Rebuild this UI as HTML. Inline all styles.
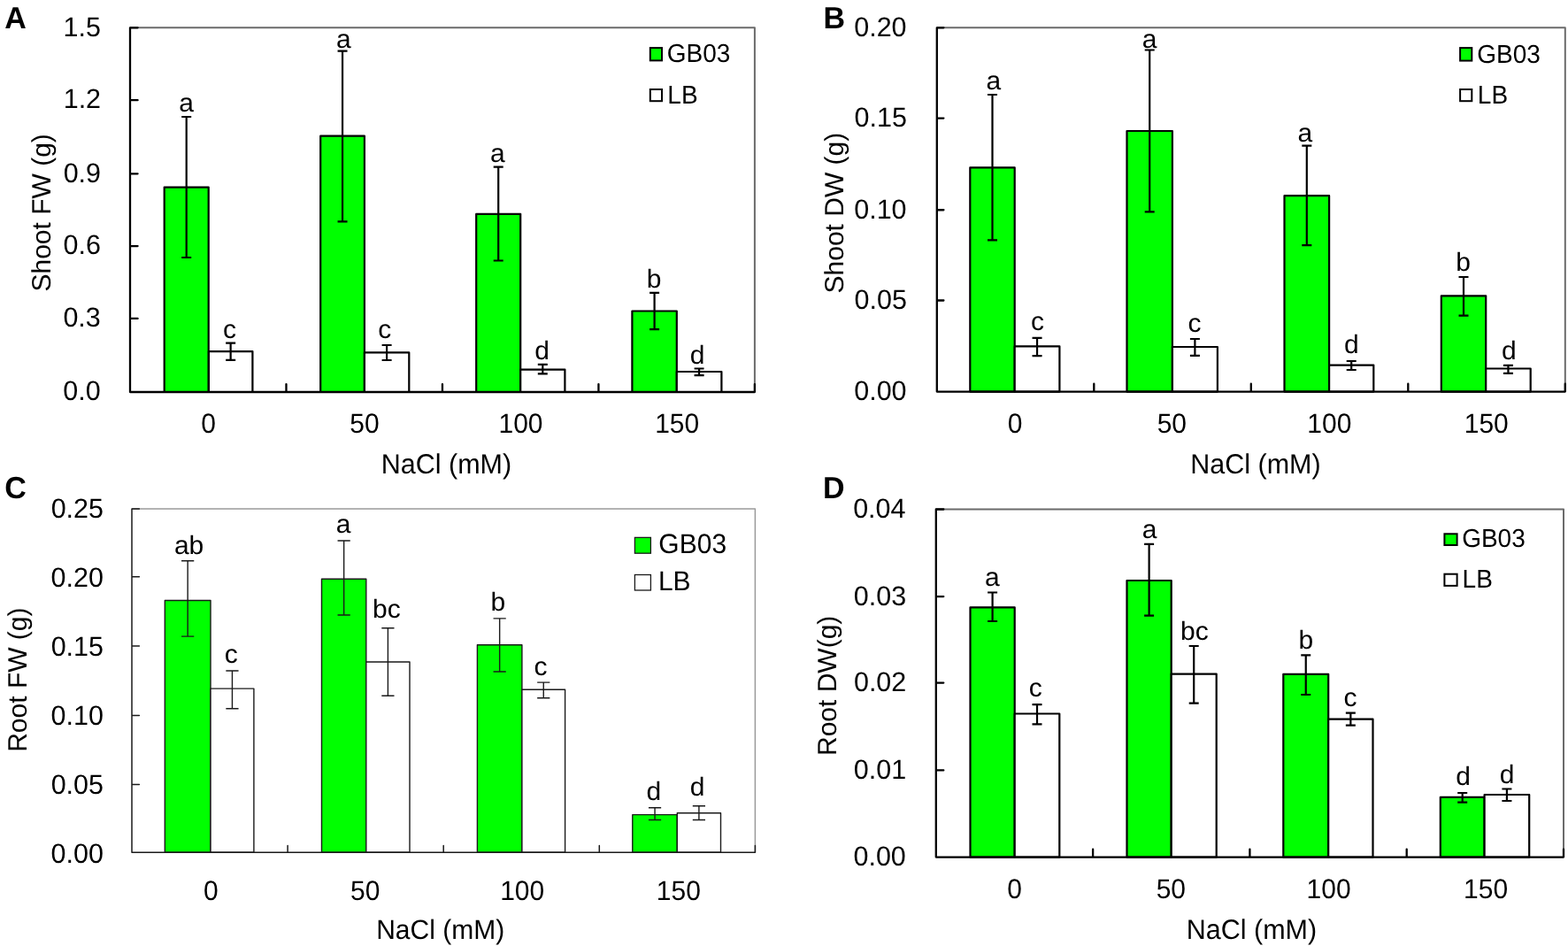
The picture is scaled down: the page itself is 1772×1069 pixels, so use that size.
<!DOCTYPE html>
<html><head><meta charset="utf-8"><title>Figure</title>
<style>html,body{margin:0;padding:0;background:#fff;overflow:hidden;}svg{display:block;}text{font-family:'Liberation Sans', Arial, Helvetica, sans-serif;fill:#000;text-rendering:geometricPrecision;}</style></head><body>
<svg width="1772" height="1069" viewBox="0 0 1772 1069">
<rect width="1772" height="1069" fill="#fff"/>
<path d="M147 31.3H852.9V443" fill="none" stroke="#6b6b6b" stroke-width="2.0" stroke-linejoin="round"/>
<rect x="185.7" y="211.6" width="50" height="231.4" fill="#00ff00" stroke="#000" stroke-width="2.2" stroke-linejoin="round"/>
<rect x="235.9" y="397.1" width="49.5" height="45.9" fill="#fff" stroke="#000" stroke-width="2.2" stroke-linejoin="round"/>
<rect x="362.2" y="153.7" width="49.7" height="289.3" fill="#00ff00" stroke="#000" stroke-width="2.2" stroke-linejoin="round"/>
<rect x="411.9" y="398.4" width="50.4" height="44.6" fill="#fff" stroke="#000" stroke-width="2.2" stroke-linejoin="round"/>
<rect x="538.2" y="241.8" width="50" height="201.2" fill="#00ff00" stroke="#000" stroke-width="2.2" stroke-linejoin="round"/>
<rect x="588.2" y="417.6" width="50.2" height="25.4" fill="#fff" stroke="#000" stroke-width="2.2" stroke-linejoin="round"/>
<rect x="714.4" y="351.5" width="50.4" height="91.5" fill="#00ff00" stroke="#000" stroke-width="2.2" stroke-linejoin="round"/>
<rect x="764.8" y="420" width="50.6" height="23" fill="#fff" stroke="#000" stroke-width="2.2" stroke-linejoin="round"/>
<path d="M210.7 132V291M205.2 132H216.2M205.2 291H216.2" fill="none" stroke="#000" stroke-width="2.2"/>
<path d="M260.65 387.6V406.9M255.15 387.6H266.15M255.15 406.9H266.15" fill="none" stroke="#000" stroke-width="2.2"/>
<path d="M387.05 57.7V250.4M381.55 57.7H392.55M381.55 250.4H392.55" fill="none" stroke="#000" stroke-width="2.2"/>
<path d="M437.1 390V407M431.6 390H442.6M431.6 407H442.6" fill="none" stroke="#000" stroke-width="2.2"/>
<path d="M563.2 188.7V294.5M557.7 188.7H568.7M557.7 294.5H568.7" fill="none" stroke="#000" stroke-width="2.2"/>
<path d="M613.3 411.8V422.4M607.8 411.8H618.8M607.8 422.4H618.8" fill="none" stroke="#000" stroke-width="2.2"/>
<path d="M739.6 330.8V372.1M734.1 330.8H745.1M734.1 372.1H745.1" fill="none" stroke="#000" stroke-width="2.2"/>
<path d="M790.1 416.5V424.1M784.6 416.5H795.6M784.6 424.1H795.6" fill="none" stroke="#000" stroke-width="2.2"/>
<path d="M147 31.3V443H852.9M147 443H155.6M147 359.9H155.6M147 278.1H155.6M147 196.3H155.6M147 113.2H155.6M147 31.3H155.6M323.48 443V434.1M499.95 443V434.1M676.42 443V434.1M852.9 443V434.1" fill="none" stroke="#000" stroke-width="2.3" stroke-linejoin="round" stroke-linecap="round"/>
<rect x="734.8" y="54.1" width="13.2" height="14.3" fill="#00ff00" stroke="#000" stroke-width="2.0"/>
<rect x="734.8" y="101" width="13.2" height="13.2" fill="#fff" stroke="#000" stroke-width="2.0"/>
<path d="M1058.8 31.3H1768.8V442.6" fill="none" stroke="#6b6b6b" stroke-width="2.0" stroke-linejoin="round"/>
<rect x="1096.3" y="189.3" width="50.4" height="253.3" fill="#00ff00" stroke="#000" stroke-width="2.2" stroke-linejoin="round"/>
<rect x="1146.7" y="391.3" width="50.7" height="51.3" fill="#fff" stroke="#000" stroke-width="2.2" stroke-linejoin="round"/>
<rect x="1273.5" y="148" width="51.4" height="294.6" fill="#00ff00" stroke="#000" stroke-width="2.2" stroke-linejoin="round"/>
<rect x="1324.9" y="392" width="51" height="50.6" fill="#fff" stroke="#000" stroke-width="2.2" stroke-linejoin="round"/>
<rect x="1451.5" y="221.2" width="50.6" height="221.4" fill="#00ff00" stroke="#000" stroke-width="2.2" stroke-linejoin="round"/>
<rect x="1502.1" y="412.6" width="50.2" height="30" fill="#fff" stroke="#000" stroke-width="2.2" stroke-linejoin="round"/>
<rect x="1628.8" y="334.3" width="50.4" height="108.3" fill="#00ff00" stroke="#000" stroke-width="2.2" stroke-linejoin="round"/>
<rect x="1679.2" y="416.5" width="50.5" height="26.1" fill="#fff" stroke="#000" stroke-width="2.2" stroke-linejoin="round"/>
<path d="M1121.5 107V271.4M1116 107H1127M1116 271.4H1127" fill="none" stroke="#000" stroke-width="2.2"/>
<path d="M1172.05 381.8V402.1M1166.55 381.8H1177.55M1166.55 402.1H1177.55" fill="none" stroke="#000" stroke-width="2.2"/>
<path d="M1299.2 56.5V239.3M1293.7 56.5H1304.7M1293.7 239.3H1304.7" fill="none" stroke="#000" stroke-width="2.2"/>
<path d="M1350.4 383V401.9M1344.9 383H1355.9M1344.9 401.9H1355.9" fill="none" stroke="#000" stroke-width="2.2"/>
<path d="M1476.8 164.7V277.2M1471.3 164.7H1482.3M1471.3 277.2H1482.3" fill="none" stroke="#000" stroke-width="2.2"/>
<path d="M1527.2 408V418M1521.7 408H1532.7M1521.7 418H1532.7" fill="none" stroke="#000" stroke-width="2.2"/>
<path d="M1654 313V356.6M1648.5 313H1659.5M1648.5 356.6H1659.5" fill="none" stroke="#000" stroke-width="2.2"/>
<path d="M1704.45 412.8V421.8M1698.95 412.8H1709.95M1698.95 421.8H1709.95" fill="none" stroke="#000" stroke-width="2.2"/>
<path d="M1058.8 31.3V442.6H1768.8M1058.8 442.6H1066.4M1058.8 339.5H1066.4M1058.8 237.25H1066.4M1058.8 133.6H1066.4M1058.8 31.3H1066.4M1236.3 442.6V433.7M1413.8 442.6V433.7M1591.3 442.6V433.7M1768.8 442.6V433.7" fill="none" stroke="#000" stroke-width="2.3" stroke-linejoin="round" stroke-linecap="round"/>
<rect x="1650.1" y="54.1" width="13.2" height="14.5" fill="#00ff00" stroke="#000" stroke-width="2.0"/>
<rect x="1650.1" y="101" width="13.2" height="13.2" fill="#fff" stroke="#000" stroke-width="2.0"/>
<path d="M149 574.9H853.4V963.3" fill="none" stroke="#9a9a9a" stroke-width="1.5" stroke-linejoin="round"/>
<rect x="186.3" y="678.5" width="51.7" height="284.8" fill="#00ff00" stroke="#1a1a1a" stroke-width="1.4" stroke-linejoin="round"/>
<rect x="238" y="778.1" width="48.9" height="185.2" fill="#fff" stroke="#1a1a1a" stroke-width="1.4" stroke-linejoin="round"/>
<rect x="363.5" y="654.2" width="50.3" height="309.1" fill="#00ff00" stroke="#1a1a1a" stroke-width="1.4" stroke-linejoin="round"/>
<rect x="413.8" y="748" width="49.2" height="215.3" fill="#fff" stroke="#1a1a1a" stroke-width="1.4" stroke-linejoin="round"/>
<rect x="539.4" y="728.7" width="50.5" height="234.6" fill="#00ff00" stroke="#1a1a1a" stroke-width="1.4" stroke-linejoin="round"/>
<rect x="589.9" y="779.3" width="48.7" height="184" fill="#fff" stroke="#1a1a1a" stroke-width="1.4" stroke-linejoin="round"/>
<rect x="714.8" y="920.6" width="50.5" height="42.7" fill="#00ff00" stroke="#1a1a1a" stroke-width="1.4" stroke-linejoin="round"/>
<rect x="765.3" y="918.8" width="49.2" height="44.5" fill="#fff" stroke="#1a1a1a" stroke-width="1.4" stroke-linejoin="round"/>
<path d="M212.15 633.8V719.1M205.05 633.8H219.25M205.05 719.1H219.25" fill="none" stroke="#1a1a1a" stroke-width="1.4"/>
<path d="M262.45 758V800.7M255.35 758H269.55M255.35 800.7H269.55" fill="none" stroke="#1a1a1a" stroke-width="1.4"/>
<path d="M388.65 611V695M381.55 611H395.75M381.55 695H395.75" fill="none" stroke="#1a1a1a" stroke-width="1.4"/>
<path d="M438.4 709.8V786.3M431.3 709.8H445.5M431.3 786.3H445.5" fill="none" stroke="#1a1a1a" stroke-width="1.4"/>
<path d="M564.65 698.9V759M557.55 698.9H571.75M557.55 759H571.75" fill="none" stroke="#1a1a1a" stroke-width="1.4"/>
<path d="M614.25 771.1V788.8M607.15 771.1H621.35M607.15 788.8H621.35" fill="none" stroke="#1a1a1a" stroke-width="1.4"/>
<path d="M740.05 912.8V926.5M732.95 912.8H747.15M732.95 926.5H747.15" fill="none" stroke="#1a1a1a" stroke-width="1.4"/>
<path d="M789.9 910.8V926.5M782.8 910.8H797M782.8 926.5H797" fill="none" stroke="#1a1a1a" stroke-width="1.4"/>
<path d="M149 574.9V963.3H853.4M149 963.3H157.4M149 886.6H157.4M149 808.4H157.4M149 730.1H157.4M149 651.8H157.4M149 574.9H157.4M325.1 963.3V955.6M501.2 963.3V955.6M677.3 963.3V955.6M853.4 963.3V955.6" fill="none" stroke="#1a1a1a" stroke-width="1.5" stroke-linejoin="round" stroke-linecap="round"/>
<rect x="717.4" y="607.4" width="18" height="17.8" fill="#00ff00" stroke="#1a1a1a" stroke-width="1.3"/>
<rect x="717.4" y="649.5" width="18" height="17.5" fill="#fff" stroke="#1a1a1a" stroke-width="1.3"/>
<path d="M1057.8 575.5H1767V968.6" fill="none" stroke="#6b6b6b" stroke-width="2.0" stroke-linejoin="round"/>
<rect x="1096.5" y="686.3" width="50.2" height="282.3" fill="#00ff00" stroke="#000" stroke-width="2.2" stroke-linejoin="round"/>
<rect x="1146.7" y="806.5" width="50.6" height="162.1" fill="#fff" stroke="#000" stroke-width="2.2" stroke-linejoin="round"/>
<rect x="1273.5" y="656" width="50.2" height="312.6" fill="#00ff00" stroke="#000" stroke-width="2.2" stroke-linejoin="round"/>
<rect x="1323.7" y="761.6" width="51" height="207" fill="#fff" stroke="#000" stroke-width="2.2" stroke-linejoin="round"/>
<rect x="1450.3" y="761.8" width="50.9" height="206.8" fill="#00ff00" stroke="#000" stroke-width="2.2" stroke-linejoin="round"/>
<rect x="1501.2" y="812.7" width="50.3" height="155.9" fill="#fff" stroke="#000" stroke-width="2.2" stroke-linejoin="round"/>
<rect x="1627.8" y="900.9" width="49.8" height="67.7" fill="#00ff00" stroke="#000" stroke-width="2.2" stroke-linejoin="round"/>
<rect x="1677.6" y="898" width="50.6" height="70.6" fill="#fff" stroke="#000" stroke-width="2.2" stroke-linejoin="round"/>
<path d="M1121.6 669.5V702M1116.1 669.5H1127.1M1116.1 702H1127.1" fill="none" stroke="#000" stroke-width="2.2"/>
<path d="M1172 796.2V818.4M1166.5 796.2H1177.5M1166.5 818.4H1177.5" fill="none" stroke="#000" stroke-width="2.2"/>
<path d="M1298.6 614.8V695.6M1293.1 614.8H1304.1M1293.1 695.6H1304.1" fill="none" stroke="#000" stroke-width="2.2"/>
<path d="M1349.2 730V794.6M1343.7 730H1354.7M1343.7 794.6H1354.7" fill="none" stroke="#000" stroke-width="2.2"/>
<path d="M1475.75 740.3V785M1470.25 740.3H1481.25M1470.25 785H1481.25" fill="none" stroke="#000" stroke-width="2.2"/>
<path d="M1526.35 805.6V819.6M1520.85 805.6H1531.85M1520.85 819.6H1531.85" fill="none" stroke="#000" stroke-width="2.2"/>
<path d="M1652.7 896V906.7M1647.2 896H1658.2M1647.2 906.7H1658.2" fill="none" stroke="#000" stroke-width="2.2"/>
<path d="M1702.9 891.5V905M1697.4 891.5H1708.4M1697.4 905H1708.4" fill="none" stroke="#000" stroke-width="2.2"/>
<path d="M1057.8 575.5V968.6H1767M1057.8 968.6H1066.3M1057.8 870.4H1066.3M1057.8 771.6H1066.3M1057.8 674.05H1066.3M1057.8 575.5H1066.3M1235.1 968.6V959.7M1412.4 968.6V959.7M1589.7 968.6V959.7M1767 968.6V959.7" fill="none" stroke="#000" stroke-width="2.3" stroke-linejoin="round" stroke-linecap="round"/>
<rect x="1632.4" y="603.3" width="14.2" height="12.7" fill="#00ff00" stroke="#000" stroke-width="2.0"/>
<rect x="1632.4" y="648.7" width="14.2" height="13.2" fill="#fff" stroke="#000" stroke-width="2.0"/>
<text transform="translate(113.6 452.2) scale(1 1.015)" font-size="30.5" text-anchor="end">0.0</text>
<text transform="translate(113.79 369.1) scale(1 1.015)" font-size="30.5" text-anchor="end">0.3</text>
<text transform="translate(113.91 287.3) scale(1 1.015)" font-size="30.5" text-anchor="end">0.6</text>
<text transform="translate(114.04 205.5) scale(1 1.015)" font-size="30.5" text-anchor="end">0.9</text>
<text transform="translate(114.08 122.4) scale(1 1.015)" font-size="30.5" text-anchor="end">1.2</text>
<text transform="translate(113.88 40.5) scale(1 1.015)" font-size="30.5" text-anchor="end">1.5</text>
<text transform="translate(235.64 488.5) scale(1 1.035)" font-size="30" text-anchor="middle">0</text>
<text transform="translate(412.01 488.5) scale(1 1.035)" font-size="30" text-anchor="middle">50</text>
<text transform="translate(588.53 488.5) scale(1 1.035)" font-size="30" text-anchor="middle">100</text>
<text transform="translate(765.2 488.5) scale(1 1.035)" font-size="30" text-anchor="middle">150</text>
<text transform="translate(504.41 534.6) scale(1 1.03)" font-size="30.5" text-anchor="middle">NaCl (mM)</text>
<text transform="translate(56.5 240.36) rotate(-90)" font-size="30" text-anchor="middle">Shoot FW (g)</text>
<text transform="translate(17.64 31.8) scale(1 1.02)" font-size="34" font-weight="bold" text-anchor="middle">A</text>
<text transform="translate(789.63 70.3) scale(1 1.035)" font-size="28" text-anchor="middle">GB03</text>
<text transform="translate(771.46 116.6) scale(1 1.035)" font-size="28" text-anchor="middle">LB</text>
<text transform="translate(210.5 126.3) scale(1 0.975)" font-size="30" text-anchor="middle">a</text>
<text transform="translate(259.57 382.3) scale(1 0.975)" font-size="30" text-anchor="middle">c</text>
<text transform="translate(388.24 53.7) scale(1 0.975)" font-size="30" text-anchor="middle">a</text>
<text transform="translate(434.86 382.3) scale(1 0.975)" font-size="30" text-anchor="middle">c</text>
<text transform="translate(562.33 182.6) scale(1 0.975)" font-size="30" text-anchor="middle">a</text>
<text transform="translate(612.47 406) scale(1 0.975)" font-size="30" text-anchor="middle">d</text>
<text transform="translate(738.98 324.8) scale(1 0.975)" font-size="30" text-anchor="middle">b</text>
<text transform="translate(788.15 411.1) scale(1 0.975)" font-size="30" text-anchor="middle">d</text>
<text transform="translate(1024.6 452.1) scale(1 1.015)" font-size="30.5" text-anchor="end">0.00</text>
<text transform="translate(1024.88 349) scale(1 1.015)" font-size="30.5" text-anchor="end">0.05</text>
<text transform="translate(1024.6 246.75) scale(1 1.015)" font-size="30.5" text-anchor="end">0.10</text>
<text transform="translate(1024.88 143.1) scale(1 1.015)" font-size="30.5" text-anchor="end">0.15</text>
<text transform="translate(1024.6 40.8) scale(1 1.015)" font-size="30.5" text-anchor="end">0.20</text>
<text transform="translate(1146.97 488.5) scale(1 1.035)" font-size="30" text-anchor="middle">0</text>
<text transform="translate(1324.37 488.5) scale(1 1.035)" font-size="30" text-anchor="middle">50</text>
<text transform="translate(1502.37 488.5) scale(1 1.035)" font-size="30" text-anchor="middle">100</text>
<text transform="translate(1679.77 488.5) scale(1 1.035)" font-size="30" text-anchor="middle">150</text>
<text transform="translate(1418.96 534.8) scale(1 1.03)" font-size="30.5" text-anchor="middle">NaCl (mM)</text>
<text transform="translate(952.8 240.58) rotate(-90)" font-size="30" text-anchor="middle">Shoot DW (g)</text>
<text transform="translate(942.7 31.6) scale(1 1.02)" font-size="34" font-weight="bold" text-anchor="middle">B</text>
<text transform="translate(1705.08 70.5) scale(1 1.035)" font-size="28" text-anchor="middle">GB03</text>
<text transform="translate(1686.98 116.6) scale(1 1.035)" font-size="28" text-anchor="middle">LB</text>
<text transform="translate(1122.76 100.5) scale(1 0.975)" font-size="30" text-anchor="middle">a</text>
<text transform="translate(1172.45 372.7) scale(1 0.975)" font-size="30" text-anchor="middle">c</text>
<text transform="translate(1299.04 53.7) scale(1 0.975)" font-size="30" text-anchor="middle">a</text>
<text transform="translate(1350.07 375.2) scale(1 0.975)" font-size="30" text-anchor="middle">c</text>
<text transform="translate(1474.89 159.8) scale(1 0.975)" font-size="30" text-anchor="middle">a</text>
<text transform="translate(1527.38 399) scale(1 0.975)" font-size="30" text-anchor="middle">d</text>
<text transform="translate(1653.65 305.6) scale(1 0.975)" font-size="30" text-anchor="middle">b</text>
<text transform="translate(1705.28 406.2) scale(1 0.975)" font-size="30" text-anchor="middle">d</text>
<text transform="translate(116.94 974.8) scale(1 1.015)" font-size="30.5" text-anchor="end">0.00</text>
<text transform="translate(117.02 896.8) scale(1 1.015)" font-size="30.5" text-anchor="end">0.05</text>
<text transform="translate(116.94 818.8) scale(1 1.015)" font-size="30.5" text-anchor="end">0.10</text>
<text transform="translate(117.02 740.8) scale(1 1.015)" font-size="30.5" text-anchor="end">0.15</text>
<text transform="translate(116.94 662.8) scale(1 1.015)" font-size="30.5" text-anchor="end">0.20</text>
<text transform="translate(117.02 584.8) scale(1 1.015)" font-size="30.5" text-anchor="end">0.25</text>
<text transform="translate(238.46 1017.2) scale(1 1.035)" font-size="30" text-anchor="middle">0</text>
<text transform="translate(412.79 1017.2) scale(1 1.035)" font-size="30" text-anchor="middle">50</text>
<text transform="translate(590.22 1017.2) scale(1 1.035)" font-size="30" text-anchor="middle">100</text>
<text transform="translate(766.8 1017.2) scale(1 1.035)" font-size="30" text-anchor="middle">150</text>
<text transform="translate(497.68 1061) scale(1 1.03)" font-size="30" text-anchor="middle">NaCl (mM)</text>
<text transform="translate(30.1 768.14) rotate(-90)" font-size="30" text-anchor="middle">Root FW (g)</text>
<text transform="translate(17.51 562.6) scale(1 1.02)" font-size="34" font-weight="bold" text-anchor="middle">C</text>
<text transform="translate(782.73 625.3) scale(1 1.035)" font-size="30" text-anchor="middle">GB03</text>
<text transform="translate(762.22 667) scale(1 1.035)" font-size="30" text-anchor="middle">LB</text>
<text transform="translate(213.57 625.5) scale(1 0.975)" font-size="30" text-anchor="middle">ab</text>
<text transform="translate(261.25 748.6) scale(1 0.975)" font-size="30" text-anchor="middle">c</text>
<text transform="translate(388.16 601.6) scale(1 0.975)" font-size="30" text-anchor="middle">a</text>
<text transform="translate(436.8 697.5) scale(1 0.975)" font-size="30" text-anchor="middle">bc</text>
<text transform="translate(562.74 689.5) scale(1 0.975)" font-size="30" text-anchor="middle">b</text>
<text transform="translate(610.92 763.1) scale(1 0.975)" font-size="30" text-anchor="middle">c</text>
<text transform="translate(738.8 903.5) scale(1 0.975)" font-size="30" text-anchor="middle">d</text>
<text transform="translate(787.98 898.9) scale(1 0.975)" font-size="30" text-anchor="middle">d</text>
<text transform="translate(1023.85 978.2) scale(1 1.015)" font-size="30.5" text-anchor="end">0.00</text>
<text transform="translate(1024.11 880) scale(1 1.015)" font-size="30.5" text-anchor="end">0.01</text>
<text transform="translate(1024.3 781.2) scale(1 1.015)" font-size="30.5" text-anchor="end">0.02</text>
<text transform="translate(1024.17 683.65) scale(1 1.015)" font-size="30.5" text-anchor="end">0.03</text>
<text transform="translate(1023.52 585.1) scale(1 1.015)" font-size="30.5" text-anchor="end">0.04</text>
<text transform="translate(1146.6 1014.9) scale(1 1.035)" font-size="30" text-anchor="middle">0</text>
<text transform="translate(1323.37 1014.9) scale(1 1.035)" font-size="30" text-anchor="middle">50</text>
<text transform="translate(1501.6 1014.9) scale(1 1.035)" font-size="30" text-anchor="middle">100</text>
<text transform="translate(1679.12 1014.9) scale(1 1.035)" font-size="30" text-anchor="middle">150</text>
<text transform="translate(1414.41 1060.8) scale(1 1.03)" font-size="30.5" text-anchor="middle">NaCl (mM)</text>
<text transform="translate(945.4 774.86) rotate(-90)" font-size="30" text-anchor="middle">Root DW(g)</text>
<text transform="translate(942.34 562.7) scale(1 1.02)" font-size="34" font-weight="bold" text-anchor="middle">D</text>
<text transform="translate(1687.94 618.4) scale(1 1.035)" font-size="28" text-anchor="middle">GB03</text>
<text transform="translate(1669.73 664) scale(1 1.035)" font-size="28" text-anchor="middle">LB</text>
<text transform="translate(1121.46 661.8) scale(1 0.975)" font-size="30" text-anchor="middle">a</text>
<text transform="translate(1170.26 787.1) scale(1 0.975)" font-size="30" text-anchor="middle">c</text>
<text transform="translate(1299.16 607.8) scale(1 0.975)" font-size="30" text-anchor="middle">a</text>
<text transform="translate(1349.8 723.1) scale(1 0.975)" font-size="30" text-anchor="middle">bc</text>
<text transform="translate(1475.74 732.8) scale(1 0.975)" font-size="30" text-anchor="middle">b</text>
<text transform="translate(1526.07 798.2) scale(1 0.975)" font-size="30" text-anchor="middle">c</text>
<text transform="translate(1653.6 886.6) scale(1 0.975)" font-size="30" text-anchor="middle">d</text>
<text transform="translate(1703.18 884.6) scale(1 0.975)" font-size="30" text-anchor="middle">d</text>
</svg></body></html>
